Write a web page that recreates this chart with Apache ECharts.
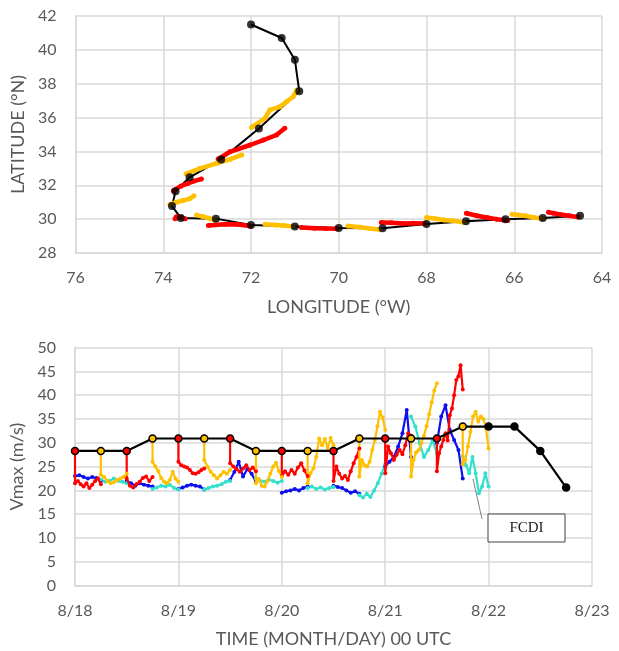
<!DOCTYPE html>
<html>
<head>
<meta charset="utf-8">
<script src="https://cdn.jsdelivr.net/npm/echarts@6/dist/echarts.min.js"></script>
<style>
  html, body { margin: 0; padding: 0; background: #fff; }
  #chart { width: 619px; height: 651px; }
</style>
</head>
<body>
<div id="chart"></div>
<script>
// ---- top panel: tracks (lon °W, lat °N) ----
const bestLon = [64.5, 65.35, 66.2, 67.1, 68.0, 69.0, 70.0, 71.0, 72.0, 72.8, 73.6, 73.8, 73.72, 73.4, 72.68, 71.82, 70.9, 71.0, 71.3, 72.0];
const bestLat = [30.2, 30.07, 30.0, 29.87, 29.71, 29.46, 29.48, 29.57, 29.65, 30.03, 30.07, 30.77, 31.65, 32.47, 33.53, 35.35, 37.55, 39.42, 40.7, 41.5];

// forecast tracks, one list per 6-h cycle (red, yellow, red, ...)
const trackSegs = [
  [[64.55, 30.13], [64.75, 30.2], [64.95, 30.28], [65.1, 30.35], [65.22, 30.41]],
  [[65.34, 30.02], [65.55, 30.1], [65.75, 30.2], [65.9, 30.24], [66.05, 30.29]],
  [[66.15, 29.92], [66.4, 30.0], [66.6, 30.08], [66.85, 30.2], [67.09, 30.35]],
  [[67.14, 29.8], [67.4, 29.9], [67.6, 29.95], [67.8, 30.02], [68.0, 30.1]],
  [[68.05, 29.75], [68.3, 29.76], [68.55, 29.74], [68.8, 29.78], [69.03, 29.8]],
  [[69.06, 29.38], [69.3, 29.45], [69.5, 29.52], [69.79, 29.6]],
  [[70.05, 29.43], [70.3, 29.44], [70.55, 29.46], [70.85, 29.5]],
  [[71.04, 29.56], [71.25, 29.62], [71.45, 29.66], [71.68, 29.7]],
  [[72.02, 29.6], [72.3, 29.68], [72.6, 29.7], [72.97, 29.62]],
  [[72.82, 29.95], [72.95, 30.05], [73.1, 30.15], [73.24, 30.24]],
  [[73.5, 30.02], [73.6, 30.1], [73.7, 30.14], [73.73, 30.03]],
  [[73.85, 30.86], [73.7, 31.0], [73.55, 31.1], [73.4, 31.2], [73.3, 31.38]],
  [[73.77, 31.68], [73.6, 31.95], [73.45, 32.1], [73.3, 32.25], [73.13, 32.37]],
  [[73.48, 32.67], [73.16, 33.0], [72.78, 33.3], [72.48, 33.53], [72.21, 33.79]],
  [[72.75, 33.55], [72.48, 33.98], [72.02, 34.38], [71.72, 34.67], [71.42, 34.97], [71.23, 35.37]],
  [[71.99, 35.42], [71.68, 35.96], [71.57, 36.45], [71.34, 36.64], [71.19, 36.94], [71.04, 37.23], [70.96, 37.63]]
];

// ---- bottom panel: intensity ----
const dayLabels = ['8/18', '8/19', '8/20', '8/21', '8/22', '8/23'];
const bestTime = [0, 0.25, 0.5, 0.75, 1, 1.25, 1.5, 1.75, 2, 2.25, 2.5, 2.75, 3, 3.25, 3.5, 3.75, 4, 4.25, 4.5, 4.75];
const bestVmax = [28.3, 28.3, 28.3, 30.9, 30.9, 30.9, 30.9, 28.3, 28.3, 28.3, 28.3, 30.9, 30.9, 30.9, 30.9, 33.4, 33.4, 33.4, 28.3, 20.6];

// forecast Vmax per cycle (red, yellow alternating), first value = best track at start
const fcstVmax = [
  [28.3, 21.5, 22.0, 21.3, 20.8, 21.5, 20.5, 21.2, 22.0, 22.5, 21.3],
  [28.3, 23.3, 22.8, 22.0, 21.5, 21.7, 22.2, 22.5, 22.8, 23.5],
  [28.3, 22.5, 21.0, 20.6, 21.3, 21.8, 22.6, 22.9, 22.0, 22.8],
  [30.9, 26.0, 25.0, 24.0, 22.6, 21.8, 21.5, 22.2, 23.9, 22.5, 21.8],
  [30.9, 26.0, 25.3, 25.0, 24.8, 24.3, 23.6, 23.5, 23.8, 24.3, 24.6],
  [30.9, 26.4, 25.0, 23.9, 23.2, 22.5, 23.2, 23.9, 23.5, 24.3],
  [30.9, 25.7, 25.0, 24.5, 23.9, 24.6, 25.3, 24.3, 24.8, 24.0],
  [28.3, 21.5, 22.4, 21.0, 20.8, 22.0, 23.5, 25.0, 25.8, 24.0, 22.8],
  [28.3, 23.0, 24.0, 23.3, 24.3, 23.5, 24.8, 25.7, 24.2, 23.0],
  [28.3, 21.5, 23.6, 24.6, 27.0, 30.9, 29.5, 30.8, 28.8, 31.0, 29.5],
  [28.3, 22.0, 25.0, 23.5, 22.5, 23.0, 22.2, 24.0, 25.7, 27.0, 28.8],
  [30.9, 22.9, 26.4, 25.3, 25.0, 26.0, 28.5, 30.6, 33.5, 36.5, 35.3, 32.7],
  [30.9, 23.6, 29.2, 27.8, 26.4, 27.5, 28.5, 27.6, 29.5, 32.0, 31.5],
  [30.9, 22.9, 26.5, 28.0, 28.5, 30.0, 31.5, 33.5, 36.0, 38.5, 41.0, 42.5],
  [30.9, 24.0, 27.8, 29.2, 30.6, 32.0, 30.5, 35.8, 37.2, 40.0, 43.2, 44.0, 46.3, 41.2],
  [33.4, 25.5, 26.4, 29.2, 32.3, 35.5, 36.5, 34.5, 35.5, 35.0, 33.0, 28.8]
];

// FCDI Vmax per cycle (blue, cyan alternating)
const fcdiVmax = [
  [23.0, 23.2, 22.8, 22.5, 22.8, 22.6, 22.0],
  [22.3, 21.8, 22.0, 22.5, 22.0, 21.8, 21.5],
  [22.0, 21.5, 21.0, 21.5, 21.2, 21.0, 20.8],
  [20.3, 20.6, 21.0, 20.8, 21.2, 20.5, 20.2],
  [20.3, 20.6, 21.0, 21.2, 21.0, 20.8, 20.2],
  [20.2, 20.5, 20.8, 21.0, 21.3, 21.8, 22.0],
  [22.2, 23.9, 26.0, 22.9, 24.5, 23.5, 21.8],
  [22.5, 22.0, 21.8, 22.3, 22.0, 21.6, 22.0],
  [19.5, 19.8, 20.0, 20.3, 20.0, 20.5, 20.8],
  [20.5, 20.8, 20.3, 20.6, 20.2, 20.5, 20.7],
  [21.0, 20.7, 20.5, 20.0, 19.5, 19.8, 19.3],
  [19.0, 18.5, 19.3, 18.6, 20.0, 21.5, 23.5, 25.5],
  [25.0, 26.0, 27.0, 29.2, 32.0, 36.9, 27.0],
  [35.5, 33.4, 29.9, 27.0, 28.5, 30.5, 27.7],
  [29.9, 35.5, 37.9, 32.7, 30.6, 28.5, 22.5],
  [27.1, 25.3, 23.6, 27.0, 23.6, 19.4, 20.8, 23.6, 20.8]
];

const RED = '#ff0000', YEL = '#ffc000', BLUE = '#1010ee', CYAN = '#33e0cc';
const GRID = '#d9d9d9', TXT = '#595959';

function trackSeries(parity) {
  const d = [];
  trackSegs.forEach(function (seg, i) {
    if (i % 2 !== parity) return;
    seg.forEach(function (p) { d.push(p); });
    d.push(null);
  });
  return d;
}

function fcstSeries(parity) {
  const d = [];
  fcstVmax.forEach(function (vals, i) {
    if (i % 2 !== parity) return;
    const t0 = bestTime[i];
    const n = vals.length;
    vals.forEach(function (v, k) {
      const t = k === 0 ? t0 : t0 + 0.25 * (k - 1) / (n - 2);
      d.push([t, v]);
    });
    d.push(null);
  });
  return d;
}

function fcdiSeries(parity) {
  const d = [];
  fcdiVmax.forEach(function (vals, i) {
    if (i % 2 !== parity) return;
    const t0 = bestTime[i];
    const n = vals.length;
    vals.forEach(function (v, k) {
      d.push([t0 + 0.25 * k / (n - 1), v]);
    });
    d.push(null);
  });
  return d;
}

const bestTrack = bestLon.map(function (x, i) { return [x, bestLat[i]]; });
const bestInt = bestTime.map(function (t, i) {
  return {
    value: [t, bestVmax[i]],
    itemStyle: { color: i < 16 ? (i % 2 === 0 ? RED : YEL) : '#000' }
  };
});

const axisCommon = {
  axisLine: { show: true, lineStyle: { color: GRID, width: 1.5 } },
  axisTick: { show: false },
  splitLine: { show: true, lineStyle: { color: GRID, width: 1.5 } },
  nameLocation: 'middle',
  nameTextStyle: { color: TXT, fontSize: 18, fontFamily: 'Lato' }
};
const labelStyle = { color: TXT, fontSize: 16, fontFamily: 'Lato' };

let myChart = echarts.init(document.getElementById('chart'));

let option = {
  backgroundColor: '#fff',
  animation: false,
  grid: [
    { left: 75.5, top: 16, width: 526.5, height: 237 },
    { left: 75, top: 347.6, width: 517, height: 238 }
  ],
  xAxis: [
    Object.assign({}, axisCommon, {
      gridIndex: 0, type: 'value', min: 64, max: 76, interval: 2, inverse: true,
      name: 'LONGITUDE (°W)', nameGap: 45,
      axisLabel: Object.assign({ margin: 17 }, labelStyle)
    }),
    Object.assign({}, axisCommon, {
      gridIndex: 1, type: 'value', min: 0, max: 5, interval: 1,
      name: 'TIME (MONTH/DAY) 00 UTC', nameGap: 45,
      axisLabel: Object.assign({
        margin: 17,
        formatter: function (v) { return dayLabels[Math.round(v)]; }
      }, labelStyle)
    })
  ],
  yAxis: [
    Object.assign({}, axisCommon, {
      gridIndex: 0, type: 'value', min: 28, max: 42, interval: 2,
      name: 'LATITUDE (°N)', nameGap: 46,
      axisLabel: Object.assign({ margin: 19 }, labelStyle)
    }),
    Object.assign({}, axisCommon, {
      gridIndex: 1, type: 'value', min: 0, max: 50, interval: 5,
      name: 'Vmax (m/s)', nameGap: 46,
      axisLabel: Object.assign({ margin: 19 }, labelStyle)
    })
  ],
  series: [
    // top panel
    {
      type: 'line', xAxisIndex: 0, yAxisIndex: 0, data: bestTrack, z: 2,
      showSymbol: false, lineStyle: { color: '#000', width: 2 }
    },
    {
      type: 'line', xAxisIndex: 0, yAxisIndex: 0, data: trackSeries(0), z: 3,
      symbol: 'circle', symbolSize: 5, itemStyle: { color: RED },
      lineStyle: { color: RED, width: 4.5 }, connectNulls: false
    },
    {
      type: 'line', xAxisIndex: 0, yAxisIndex: 0, data: trackSeries(1), z: 3,
      symbol: 'circle', symbolSize: 5, itemStyle: { color: YEL },
      lineStyle: { color: YEL, width: 4.5 }, connectNulls: false
    },
    {
      type: 'scatter', xAxisIndex: 0, yAxisIndex: 0, data: bestTrack, z: 4,
      symbol: 'circle', symbolSize: 8, itemStyle: { color: '#000' }
    },
    // bottom panel
    {
      type: 'line', xAxisIndex: 1, yAxisIndex: 1, data: fcdiSeries(0), z: 2,
      symbol: 'circle', symbolSize: 4, itemStyle: { color: BLUE },
      lineStyle: { color: BLUE, width: 2.2 }, connectNulls: false
    },
    {
      type: 'line', xAxisIndex: 1, yAxisIndex: 1, data: fcdiSeries(1), z: 2,
      symbol: 'circle', symbolSize: 4, itemStyle: { color: CYAN },
      lineStyle: { color: CYAN, width: 2.2 }, connectNulls: false
    },
    {
      type: 'line', xAxisIndex: 1, yAxisIndex: 1, data: fcstSeries(0), z: 3,
      symbol: 'circle', symbolSize: 4, itemStyle: { color: RED },
      lineStyle: { color: RED, width: 2.2 }, connectNulls: false
    },
    {
      type: 'line', xAxisIndex: 1, yAxisIndex: 1, data: fcstSeries(1), z: 3,
      symbol: 'circle', symbolSize: 4, itemStyle: { color: YEL },
      lineStyle: { color: YEL, width: 2.2 }, connectNulls: false
    },
    {
      type: 'line', xAxisIndex: 1, yAxisIndex: 1, data: bestInt, z: 4,
      symbol: 'circle', symbolSize: 7,
      itemStyle: { borderColor: '#000', borderWidth: 1.5 },
      lineStyle: { color: '#000', width: 2.2 }
    }
  ],
  graphic: [
    {
      type: 'line', z: 10,
      shape: { x1: 473, y1: 479, x2: 482, y2: 519 },
      style: { stroke: '#808080', lineWidth: 1 }
    },
    {
      type: 'rect', z: 10,
      shape: { x: 488, y: 514, width: 77, height: 28 },
      style: { fill: '#fff', stroke: '#404040', lineWidth: 1 }
    },
    {
      type: 'text', z: 11, x: 526.5, y: 528,
      style: {
        text: 'FCDI', fill: '#222', font: '15px "Liberation Serif"',
        align: 'center', verticalAlign: 'middle'
      }
    }
  ]
};

myChart.setOption(option);
</script>
</body>
</html>
